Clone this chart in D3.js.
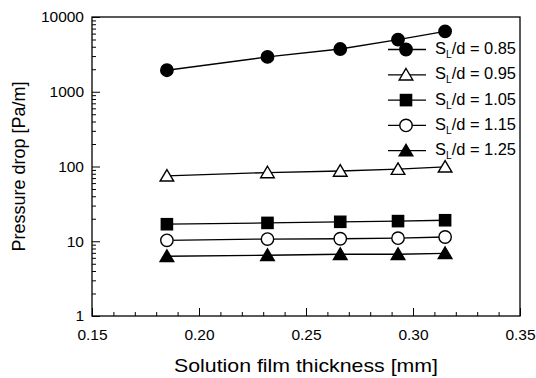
<!DOCTYPE html>
<html>
<head>
<script src="https://d3js.org/d3.v7.min.js"></script>
<style>
  body { margin: 0; background: #fff; }
  text { font-family: "Liberation Sans", Arial, sans-serif; fill: #000; }
</style>
</head>
<body>
<div id="chart"></div>
<script>
// data
var thickness = [0.185, 0.232, 0.266, 0.293, 0.315];
var sl085 = [1940, 2920, 3730, 4990, 6440];
var sl095 = [75, 83, 87, 92, 99];
var sl105 = [16.9, 17.6, 18.2, 18.6, 19.1];
var sl115 = [10.3, 10.7, 10.8, 11.0, 11.4];
var sl125 = [6.3, 6.5, 6.7, 6.7, 6.9];
var labels = ["0.85", "0.95", "1.05", "1.15", "1.25"];
var xTicks = [0.15, 0.20, 0.25, 0.30, 0.35];
var yTicks = [1, 10, 100, 1000, 10000];

var series = [
  {name: labels[0], values: sl085, shape: "circle", fill: "#000"},
  {name: labels[1], values: sl095, shape: "triangle", fill: "#fff"},
  {name: labels[2], values: sl105, shape: "square", fill: "#000"},
  {name: labels[3], values: sl115, shape: "circle", fill: "#fff"},
  {name: labels[4], values: sl125, shape: "triangle", fill: "#000"}
];

var width = 536, height = 378;
var margin = {left: 92, right: 16, top: 17, bottom: 62};

var svg = d3.select("#chart").append("svg")
    .attr("width", width)
    .attr("height", height);

var x = d3.scaleLinear().domain([0.15, 0.35]).range([margin.left, width - margin.right]);
var y = d3.scaleLog().domain([1, 10000]).range([height - margin.bottom, margin.top]);

// minor ticks
var xMinor = d3.range(0.16, 0.345, 0.01);
var yMinor = [];
[1, 10, 100, 1000].forEach(function(d) {
  for (var k = 2; k < 10; k++) yMinor.push(d * k);
});

var g = svg.append("g");

// x axis (ticks point inward)
g.append("g")
  .attr("transform", "translate(0," + y(1) + ")")
  .call(d3.axisBottom(x).tickValues(xMinor).tickSize(-4).tickFormat(""))
  .call(function(a) { a.select(".domain").remove(); });
var xAx = g.append("g")
  .attr("transform", "translate(0," + y(1) + ")")
  .call(d3.axisBottom(x).tickValues(xTicks).tickSize(-8).tickPadding(13)
    .tickFormat(d3.format(".2f")));
xAx.select(".domain").remove();
xAx.selectAll("text").style("font-size", "15.5px");

// y axis
g.append("g")
  .attr("transform", "translate(" + x(0.15) + ",0)")
  .call(d3.axisLeft(y).tickValues(yMinor).tickSize(-4).tickFormat(""))
  .call(function(a) { a.select(".domain").remove(); });
var yAx = g.append("g")
  .attr("transform", "translate(" + x(0.15) + ",0)")
  .call(d3.axisLeft(y).tickValues(yTicks).tickSize(-8).tickPadding(8)
    .tickFormat(d3.format("d")));
yAx.select(".domain").remove();
yAx.selectAll("text").style("font-size", "15.5px");

// frame
svg.append("rect")
  .attr("x", x(0.15)).attr("y", y(10000))
  .attr("width", x(0.35) - x(0.15)).attr("height", y(1) - y(10000))
  .attr("fill", "none").attr("stroke", "#000").attr("stroke-width", 1.3);

// axis titles
svg.append("text")
  .attr("x", 174).attr("y", 372)
  .attr("textLength", 264).attr("lengthAdjust", "spacingAndGlyphs")
  .style("font-size", "18.5px")
  .text("Solution film thickness [mm]");
svg.append("text")
  .attr("transform", "translate(25," + (y(1) + y(10000)) / 2 + ") rotate(-90)")
  .attr("text-anchor", "middle").style("font-size", "18px")
  .text("Pressure drop [Pa/m]");

function drawMarker(sel, s) {
  if (s.shape === "circle") {
    sel.append("circle").attr("r", 6.2);
  } else if (s.shape === "square") {
    sel.append("rect").attr("x", -5.6).attr("y", -5.6).attr("width", 11.2).attr("height", 11.2);
  } else {
    sel.append("path").attr("d", "M0,-6.3L6.8,5.2L-6.8,5.2Z");
  }
  sel.selectAll("*").attr("fill", s.fill).attr("stroke", "#000").attr("stroke-width", 1.4);
}

var line = d3.line()
  .x(function(d, i) { return x(thickness[i]); })
  .y(function(d) { return y(d); });

series.forEach(function(s) {
  svg.append("path")
    .attr("d", line(s.values))
    .attr("fill", "none").attr("stroke", "#000").attr("stroke-width", 1.3);
  s.values.forEach(function(v, i) {
    var m = svg.append("g").attr("transform", "translate(" + x(thickness[i]) + "," + y(v) + ")");
    drawMarker(m, s);
  });
});

// legend
var legend = svg.append("g");
series.forEach(function(s, i) {
  var ly = 49.5 + i * 25.3;
  var row = legend.append("g").attr("transform", "translate(0," + ly + ")");
  row.append("line").attr("x1", 388).attr("x2", 426)
    .attr("stroke", "#000").attr("stroke-width", 1.3);
  var m = row.append("g").attr("transform", "translate(406,0)");
  drawMarker(m, s);
  var t = row.append("text").attr("x", 435).attr("y", 4.5)
    .attr("textLength", 81).attr("lengthAdjust", "spacingAndGlyphs")
    .style("font-size", "16px");
  t.append("tspan").text("S");
  t.append("tspan").attr("dy", 4).style("font-size", "10px").text("L");
  t.append("tspan").attr("dy", -4).text("/d = " + s.name);
});
</script>
</body>
</html>
